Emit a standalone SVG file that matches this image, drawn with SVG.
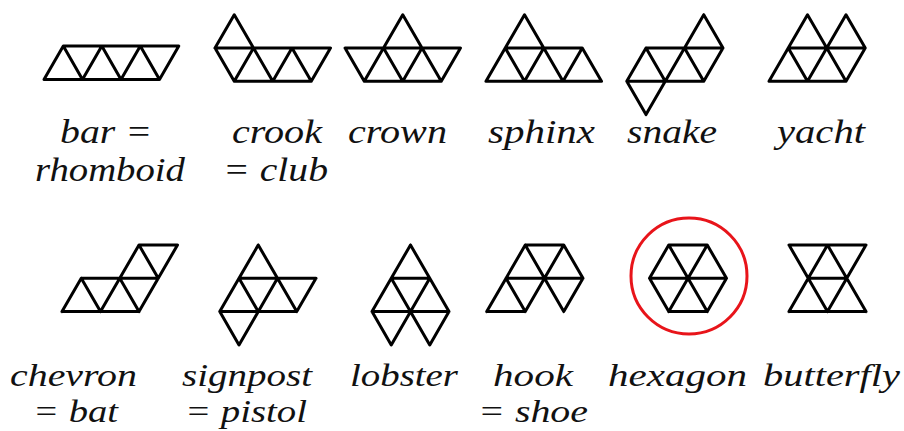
<svg xmlns="http://www.w3.org/2000/svg" width="904" height="431" viewBox="0 0 904 431">
<style>
.p{fill:none;stroke:#000;stroke-width:3;stroke-linejoin:round;stroke-linecap:round}
.t1{font-family:'Liberation Serif',serif;font-style:italic;font-size:34px;fill:#111}
.t2{font-family:'Liberation Serif',serif;font-style:italic;font-size:31px;fill:#111}
.ring{fill:none;stroke:#e8141a;stroke-width:3}
</style>
<rect width="904" height="431" fill="#fff"/>
<g id="bar"><path class="p" d="M44 79.5 L159.5 79.5 L178.8 46 L63.3 46 Z M63.3 46 L82.5 79.5 L101.8 46 L121 79.5 L140.3 46 L159.5 79.5"/>
<text class="t1" x="60" y="143" textLength="92" lengthAdjust="spacingAndGlyphs">bar =</text>
<text class="t1" x="35" y="181" textLength="150" lengthAdjust="spacingAndGlyphs">rhomboid</text></g>
<g id="crook"><path class="p" d="M215 48 L330.5 48 M234.25 81.3 L311.25 81.3 M215 48 L234.25 81.3 L253.5 48 L272.75 81.3 L292 48 L311.25 81.3 L330.5 48 M215 48 L234.25 14.7 L253.5 48"/>
<text class="t1" x="232" y="143" textLength="90" lengthAdjust="spacingAndGlyphs">crook</text>
<text class="t1" x="223" y="181" textLength="105" lengthAdjust="spacingAndGlyphs">= club</text></g>
<g id="crown"><path class="p" d="M345 48 L460.5 48 M364.25 81.3 L441.25 81.3 M345 48 L364.25 81.3 L383.5 48 L402.75 81.3 L422 48 L441.25 81.3 L460.5 48 M383.5 48 L402.75 14.7 L422 48"/>
<text class="t1" x="348" y="143" textLength="99" lengthAdjust="spacingAndGlyphs">crown</text></g>
<g id="sphinx"><path class="p" d="M486 81.3 L601.5 81.3 M505.25 48 L582.25 48 M486 81.3 L524.5 14.7 L563 81.3 M524.5 81.3 L543.75 48 M505.25 48 L524.5 81.3 M563 81.3 L582.25 48 L601.5 81.3"/>
<text class="t1" x="488" y="143" textLength="107" lengthAdjust="spacingAndGlyphs">sphinx</text></g>
<g id="snake"><path class="p" d="M646 48 L723 48 M626.75 81.3 L703.75 81.3 M703.75 14.7 L723 48 L703.75 81.3 M703.75 14.7 L646 114.6 M646 48 L626.75 81.3 L646 114.6 M646 48 L665.25 81.3 M684.5 48 L703.75 81.3"/>
<text class="t1" x="627" y="143" textLength="90" lengthAdjust="spacingAndGlyphs">snake</text></g>
<g id="yacht"><path class="p" d="M769 81.3 L846 81.3 M788.25 48 L865.25 48 M769 81.3 L807.5 14.7 L846 81.3 M807.5 81.3 L846 14.7 L865.25 48 L846 81.3 M788.25 48 L807.5 81.3"/>
<text class="t1" x="777" y="143" textLength="88" lengthAdjust="spacingAndGlyphs">yacht</text></g>
<g id="chevron"><path class="p" d="M62 311.6 L139 311.6 L177.5 245 L139 245 L100.5 311.6 M62 311.6 L81.25 278.3 L100.5 311.6 M81.25 278.3 L158.25 278.3 M119.75 278.3 L139 311.6 M139 245 L158.25 278.3"/>
<text class="t2" x="10" y="386" textLength="127" lengthAdjust="spacingAndGlyphs">chevron</text>
<text class="t2" x="33" y="422" textLength="85" lengthAdjust="spacingAndGlyphs">= bat</text></g>
<g id="signpost"><path class="p" d="M239 278.3 L316 278.3 M219.75 311.6 L296.75 311.6 M258.25 245 L219.75 311.6 L239 344.9 L277.5 278.3 M258.25 245 L296.75 311.6 L316 278.3 M239 278.3 L258.25 311.6"/>
<text class="t2" x="182" y="386" textLength="130" lengthAdjust="spacingAndGlyphs">signpost</text>
<text class="t2" x="185" y="422" textLength="122" lengthAdjust="spacingAndGlyphs">= pistol</text></g>
<g id="lobster"><path class="p" d="M391.25 278.3 L429.75 278.3 M372 311.6 L449 311.6 M410.5 245 L372 311.6 L391.25 344.9 L429.75 278.3 M410.5 245 L449 311.6 L429.75 344.9 L391.25 278.3"/>
<text class="t2" x="350" y="386" textLength="108" lengthAdjust="spacingAndGlyphs">lobster</text></g>
<g id="hook"><path class="p" d="M525.25 245 L563.75 245 M506 278.3 L583 278.3 M486.75 311.6 L525.25 311.6 M486.75 311.6 L525.25 245 L544.5 278.3 L525.25 311.6 L506 278.3 M544.5 278.3 L563.75 245 L583 278.3 L563.75 311.6 L544.5 278.3"/>
<text class="t2" x="493" y="386" textLength="80" lengthAdjust="spacingAndGlyphs">hook</text>
<text class="t2" x="478" y="422" textLength="110" lengthAdjust="spacingAndGlyphs">= shoe</text></g>
<g id="hexagon"><circle class="ring" cx="689" cy="276" r="58"/>
<path class="p" d="M649.5 278.3 L668.75 245 L707.25 245 L726.5 278.3 L707.25 311.6 L668.75 311.6 Z M649.5 278.3 L726.5 278.3 M668.75 245 L707.25 311.6 M707.25 245 L668.75 311.6"/>
<text class="t2" x="608" y="386" textLength="139" lengthAdjust="spacingAndGlyphs">hexagon</text></g>
<g id="butterfly"><path class="p" d="M789 245 L866 245 M808.25 278.3 L846.75 278.3 M789 311.6 L866 311.6 M789 245 L827.5 311.6 M827.5 245 L789 311.6 M827.5 245 L866 311.6 M866 245 L827.5 311.6"/>
<text class="t2" x="763" y="386" textLength="137" lengthAdjust="spacingAndGlyphs">butterfly</text></g>
<g id="connectors"/>
</svg>
